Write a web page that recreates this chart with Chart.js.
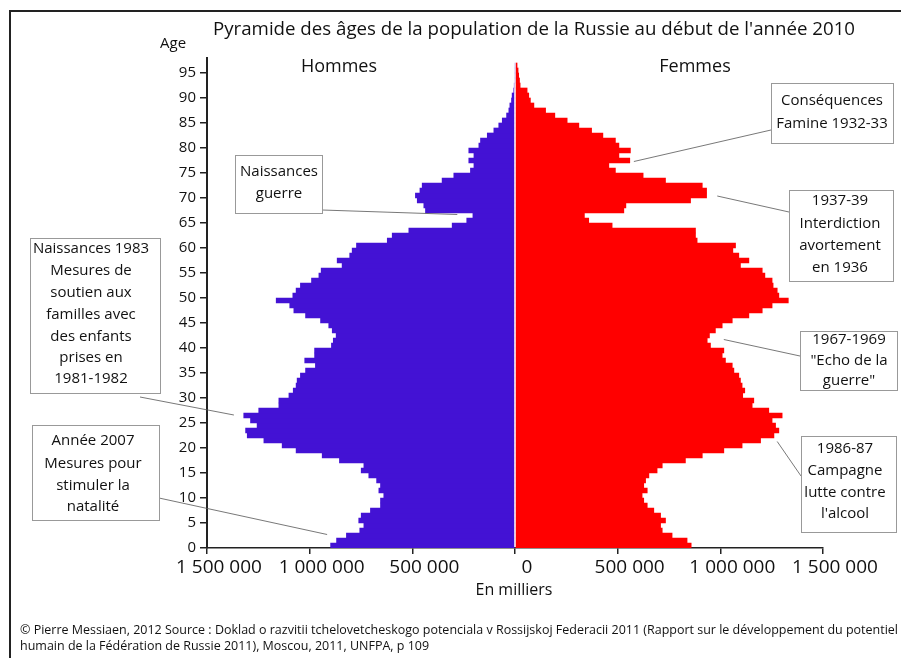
<!DOCTYPE html>
<html>
<head>
<meta charset="utf-8">
<script src="https://cdn.jsdelivr.net/npm/chart.js@4.4.0/dist/chart.umd.min.js"></script>
<style>
  html, body { margin: 0; padding: 0; background: #fff; }
  #wrap { width: 901px; height: 658px; }
</style>
</head>
<body>
<div id="wrap"><canvas id="pyramid" width="901" height="658"></canvas></div>
<script>
// --- Data: population by single year of age, Russia, start of 2010 ---
const ages = [
  0, 1, 2, 3, 4, 5, 6, 7, 8, 9, 10, 11, 12, 13, 14, 15, 16, 17, 18, 19,
  20, 21, 22, 23, 24, 25, 26, 27, 28, 29, 30, 31, 32, 33, 34, 35, 36, 37, 38, 39,
  40, 41, 42, 43, 44, 45, 46, 47, 48, 49, 50, 51, 52, 53, 54, 55, 56, 57, 58, 59,
  60, 61, 62, 63, 64, 65, 66, 67, 68, 69, 70, 71, 72, 73, 74, 75, 76, 77, 78, 79,
  80, 81, 82, 83, 84, 85, 86, 87, 88, 89, 90, 91, 92, 93, 94, 95, 96
];

const hommes = [
  898000, 869000, 821000, 756000, 736000, 761000, 749000, 704000, 655000, 655000,
  639000, 663000, 655000, 674000, 712000, 749000, 736000, 855000, 939000, 1066000,
  1134000, 1223000, 1304000, 1312000, 1256000, 1288000, 1321000, 1248000, 1150000, 1150000,
  1101000, 1080000, 1066000, 1061000, 1045000, 1020000, 972000, 1024000, 976000, 976000,
  894000, 885000, 871000, 890000, 907000, 947000, 1020000, 1077000, 1097000, 1163000,
  1082000, 1066000, 1045000, 991000, 955000, 944000, 842000, 866000, 805000, 793000,
  772000, 622000, 598000, 517000, 306000, 235000, 205000, 436000, 444000, 476000,
  485000, 463000, 452000, 355000, 298000, 217000, 200000, 225000, 200000, 225000,
  176000, 168000, 135000, 103000, 79000, 62000, 41000, 30000, 25000, 17000,
  14000, 6000, 3000, 0, 0, 0, 0
];

const femmes = [
  858000, 838000, 765000, 717000, 709000, 733000, 709000, 676000, 644000, 627000,
  619000, 644000, 627000, 636000, 652000, 692000, 717000, 830000, 912000, 1017000,
  1106000, 1196000, 1261000, 1285000, 1269000, 1252000, 1301000, 1236000, 1155000, 1163000,
  1109000, 1119000, 1106000, 1098000, 1090000, 1066000, 1058000, 1025000, 1009000, 1017000,
  952000, 936000, 947000, 976000, 1009000, 1058000, 1139000, 1204000, 1252000, 1331000,
  1285000, 1277000, 1257000, 1252000, 1217000, 1204000, 1098000, 1139000, 1090000, 1061000,
  1074000, 887000, 879000, 879000, 473000, 359000, 338000, 530000, 540000, 855000,
  933000, 933000, 912000, 733000, 624000, 489000, 457000, 559000, 506000, 562000,
  506000, 489000, 428000, 373000, 311000, 254000, 194000, 149000, 92000, 75000,
  67000, 59000, 25000, 22000, 18000, 15000, 10000
];

const xTicks = [-1500000, -1000000, -500000, 0, 500000, 1000000, 1500000];
const yTicks = [0, 5, 10, 15, 20, 25, 30, 35, 40, 45, 50, 55, 60, 65, 70, 75, 80, 85, 90, 95];

// --- Annotations (text boxes with a leader line pointing at a bar) ---
const notes = [
  { lines: ['Naissances', 'guerre'], box: [235, 155, 87, 58], cx: 279, ly: [172, 194],
    from: [322, 210], to: { value: -281000, age: 66.7 } },
  { lines: ['Naissances 1983', 'Mesures de', 'soutien aux', 'familles avec', 'des enfants', 'prises en', '1981-1982'],
    box: [30, 238, 130, 155], cx: 91, ly: [249, 271, 293, 315, 337, 358, 379],
    from: [140, 397], to: { value: -1369000, age: 26.6 } },
  { lines: ['Année 2007', 'Mesures pour', 'stimuler la', 'natalité'], box: [32, 425, 127, 95], cx: 93,
    ly: [441, 464, 486, 507], from: [159, 498], to: { value: -915000, age: 2.7 } },
  { lines: ['Conséquences', 'Famine 1932-33'], box: [771, 83, 122, 60], cx: 832, ly: [101, 124],
    from: [771, 130], to: { value: 579000, age: 77.3 } },
  { lines: ['1937-39', 'Interdiction', 'avortement', 'en 1936'], box: [789, 190, 104, 91], cx: 840,
    ly: [201, 224, 246, 268], from: [789, 212], to: { value: 985000, age: 70.4 } },
  { lines: ['1967-1969', '"Echo de la', 'guerre"'], box: [800, 331, 97, 59], cx: 849,
    ly: [340, 361, 381], from: [800, 356], to: { value: 1017000, age: 41.7 } },
  { lines: ['1986-87', 'Campagne', 'lutte contre', "l'alcool"], box: [801, 436, 95, 96], cx: 845,
    ly: [449, 471, 493, 514], from: [801, 476], to: { value: 1277000, age: 21.3 } }
];

const FONT = "'Open Sans', 'DejaVu Sans', sans-serif";
Chart.defaults.font.family = FONT;
Chart.defaults.color = '#111';

function spaced(n) {
  return String(Math.abs(n)).replace(/\B(?=(\d{3})+(?!\d))/g, ' ');
}

// text squeezed horizontally to a target width (the original uses a narrow font)
function fitText(ctx, text, x, y, width, align) {
  const w = ctx.measureText(text).width;
  const k = Math.min(1, width / w);
  ctx.save();
  ctx.translate(x, y);
  ctx.scale(k, 1);
  ctx.textAlign = align || 'left';
  ctx.fillText(text, 0, 0);
  ctx.restore();
}

const decor = {
  id: 'decor',
  afterDatasetsDraw(chart) {
    const { ctx, chartArea, scales: { x } } = chart;
    const x0 = x.getPixelForValue(0);
    ctx.save();
    ctx.fillStyle = '#fff';
    ctx.fillRect(x0 - 0.6, chartArea.top, 1.2, chartArea.bottom - chartArea.top - 1);
    ctx.restore();
  },
  afterDraw(chart) {
    const { ctx, scales: { x, y } } = chart;
    ctx.save();

    // frame
    ctx.strokeStyle = '#222';
    ctx.lineWidth = 2;
    ctx.beginPath();
    ctx.moveTo(10, 658);
    ctx.lineTo(10, 11);
    ctx.lineTo(901, 11);
    ctx.stroke();

    ctx.fillStyle = '#111';
    ctx.textBaseline = 'middle';

    // title
    ctx.font = '19px ' + FONT;
    fitText(ctx, "Pyramide des âges de la population de la Russie au début de l'année 2010", 213, 30, 642);

    ctx.font = '15px ' + FONT;
    ctx.textAlign = 'left';
    ctx.fillText('Age', 160, 44);

    ctx.font = '18px ' + FONT;
    ctx.textAlign = 'center';
    ctx.fillText('Hommes', 339, 67);
    ctx.fillText('Femmes', 695, 67);

    ctx.font = '16px ' + FONT;
    fitText(ctx, 'En milliers', 514, 590, 88, 'center');

    // source
    ctx.font = '13px ' + FONT;
    const src1 = '© Pierre Messiaen, 2012 Source : Doklad o razvitii tchelovetcheskogo potenciala v Rossijskoj Federacii 2011 (Rapport sur le développement du potentiel';
    const src2 = 'humain de la Fédération de Russie 2011), Moscou, 2011, UNFPA, p 109';
    const k = Math.min(1, 878 / ctx.measureText(src1).width);
    [src1, src2].forEach((s, i) => {
      ctx.save();
      ctx.translate(20, 630 + i * 16);
      ctx.scale(k, 1);
      ctx.textAlign = 'left';
      ctx.fillText(s, 0, 0);
      ctx.restore();
    });

    // annotations
    notes.forEach(n => {
      const [bx, by, bw, bh] = n.box;
      ctx.strokeStyle = '#555';
      ctx.lineWidth = 0.8;
      ctx.beginPath();
      ctx.moveTo(n.from[0], n.from[1]);
      ctx.lineTo(x.getPixelForValue(n.to.value), y.getPixelForValue(n.to.age));
      ctx.stroke();

      ctx.fillStyle = '#fff';
      ctx.fillRect(bx, by, bw, bh);
      ctx.strokeStyle = '#999';
      ctx.lineWidth = 1;
      ctx.strokeRect(bx + 0.5, by + 0.5, bw, bh);

      ctx.fillStyle = '#111';
      ctx.font = '15px ' + FONT;
      ctx.textAlign = 'center';
      n.lines.forEach((t, i) => ctx.fillText(t, n.cx, n.ly[i]));
    });

    ctx.restore();
  }
};

const ctx = document.getElementById('pyramid').getContext('2d');
new Chart(ctx, {
  type: 'bar',
  data: {
    datasets: [
      {
        label: 'Hommes',
        data: ages.map((a, i) => ({ x: -hommes[i], y: a + 0.5 })),
        backgroundColor: '#4312d4',
        borderWidth: 0,
        barPercentage: 1,
        categoryPercentage: 1,
        grouped: false
      },
      {
        label: 'Femmes',
        data: ages.map((a, i) => ({ x: femmes[i], y: a + 0.5 })),
        backgroundColor: '#ff0000',
        borderWidth: 0,
        barPercentage: 1,
        categoryPercentage: 1,
        grouped: false
      }
    ]
  },
  options: {
    indexAxis: 'y',
    responsive: false,
    animation: false,
    layout: { padding: { top: 58, right: 78, bottom: 0, left: 0 } },
    plugins: {
      legend: { display: false },
      title: { display: false },
      tooltip: { enabled: false }
    },
    scales: {
      x: {
        type: 'linear',
        min: xTicks[0],
        max: xTicks[xTicks.length - 1],
        afterBuildTicks: s => { s.ticks = xTicks.map(v => ({ value: v })); },
        ticks: {
          callback: v => spaced(v),
          font: { size: 19 },
          color: '#111',
          padding: 2,
          labelOffset: 12,
          maxRotation: 0,
          autoSkip: false
        },
        grid: { drawOnChartArea: false, tickLength: 6, color: '#222', lineWidth: 1.5 },
        border: { color: '#222', width: 1.5 },
        afterFit: s => { s.height = 110; }
      },
      y: {
        type: 'linear',
        min: 0,
        max: 98,
        offset: false,
        afterBuildTicks: s => { s.ticks = yTicks.map(v => ({ value: v })); },
        ticks: { font: { size: 15 }, color: '#111', padding: 4 },
        grid: { drawOnChartArea: false, offset: false, tickLength: 7, color: '#222', lineWidth: 1.5 },
        border: { color: '#222', width: 2 },
        afterFit: s => { s.width = 207; }
      }
    }
  },
  plugins: [decor]
});
</script>
</body>
</html>
